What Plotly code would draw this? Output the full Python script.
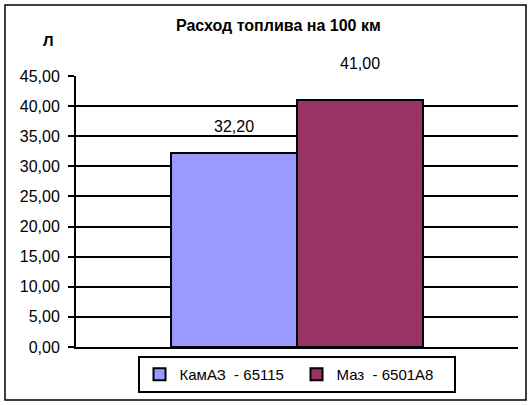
import plotly.graph_objects as go

title_text = "Расход топлива на 100 км"
y_axis_label = "Л"
category = [""]
series_names = ["КамАЗ  - 65115", "Маз  - 6501А8"]
series_values = [32.20, 41.00]
series_colors = ["#9999FF", "#993366"]
tick_vals = [0, 5, 10, 15, 20, 25, 30, 35, 40, 45]
tick_text = ["0,00", "5,00", "10,00", "15,00", "20,00", "25,00", "30,00", "35,00", "40,00", "45,00"]
value_labels = ["32,20", "41,00"]
label_shifts = [27, 37]

FONT = "Liberation Sans, Arial, sans-serif"

fig = go.Figure()
for name, val, col in zip(series_names, series_values, series_colors):
    fig.add_trace(go.Bar(
        x=category, y=[val], name=name,
        marker=dict(color=col, line=dict(color="black", width=2)),
        hoverinfo="skip",
    ))

offsets = [-0.5, 0.5]
for i, (val, lab) in enumerate(zip(series_values, value_labels)):
    fig.add_annotation(
        x=0, y=val, xref="x", yref="y", text=lab, showarrow=False,
        xshift=offsets[i] * 126, yshift=label_shifts[i],
        font=dict(family=FONT, size=16, color="black"),
    )

L, R, T, B = 76, 11, 76, 58
W, H = 529, 405
pw, ph = W - L - R, H - T - B

def px_x(px):
    return (px - L) / pw

def px_y(py):
    return (H - B - py) / ph

fig.add_annotation(
    x=px_x(278), y=px_y(25), xref="paper", yref="paper", text="<b>" + title_text + "</b>",
    showarrow=False, font=dict(family=FONT, size=16, color="black"),
    xanchor="center", yanchor="middle",
)
fig.add_annotation(
    x=px_x(48), y=px_y(40), xref="paper", yref="paper", text="<b>" + y_axis_label + "</b>",
    showarrow=False, font=dict(family=FONT, size=15, color="black"),
    xanchor="center", yanchor="middle",
)

fig.add_shape(
    type="rect", xref="paper", yref="paper",
    x0=px_x(5), x1=px_x(526), y0=px_y(400), y1=px_y(5),
    line=dict(color="black", width=1.5), layer="below",
)

fig.update_layout(
    width=W, height=H,
    margin=dict(l=L, r=R, t=T, b=B, autoexpand=False),
    paper_bgcolor="white", plot_bgcolor="white",
    barmode="group", bargap=0.43, bargroupgap=0,
    showlegend=True,
    legend=dict(
        orientation="h", x=px_x(296.5), y=px_y(356), xanchor="center", yanchor="top",
        bordercolor="black", borderwidth=2, bgcolor="white",
        font=dict(family=FONT, size=15, color="black"),
        entrywidth=112, entrywidthmode="pixels",
        itemwidth=30, tracegroupgap=0,
    ),
    font=dict(family=FONT, size=15, color="black"),
    xaxis=dict(
        range=[-0.5, 0.5], showticklabels=False, showgrid=False,
        showline=True, linecolor="black", linewidth=2, zeroline=False,
        ticks="", fixedrange=True,
    ),
    yaxis=dict(
        range=[0, 45], tickvals=tick_vals, ticktext=tick_text,
        showgrid=True, gridcolor="black", gridwidth=2,
        showline=True, linecolor="black", linewidth=2,
        ticks="outside", ticklen=6, tickwidth=2, tickcolor="black",
        ticklabelstandoff=5,
        zeroline=False, fixedrange=True,
        tickfont=dict(family=FONT, size=16, color="black"),
    ),
)

fig.write_html("out.html", config={"displayModeBar": False},
               post_script="document.body.style.margin='0';")
